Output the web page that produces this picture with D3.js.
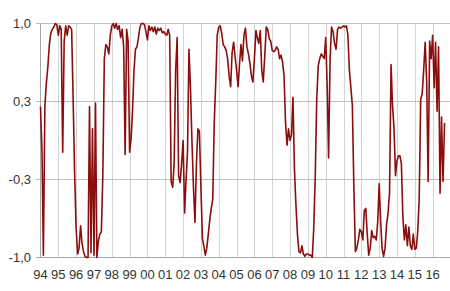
<!DOCTYPE html>
<html>
<head>
<meta charset="utf-8">
<script src="https://cdn.jsdelivr.net/npm/d3@7"></script>
<style>
  body { margin: 0; background: #fff; }
  text { font-family: Arial, "Liberation Sans", sans-serif; }
</style>
</head>
<body>
<script>
var width = 450,
  height = 291;

// x axis labels (one per year, placed at 1 January)
var years = [1994, 1995, 1996, 1997, 1998, 1999, 2000, 2001, 2002, 2003, 2004, 2005,
  2006, 2007, 2008, 2009, 2010, 2011, 2012, 2013, 2014, 2015, 2016];
var yearLabels = ["94", "95", "96", "97", "98", "99", "00", "01", "02", "03", "04", "05",
  "06", "07", "08", "09", "10", "11", "12", "13", "14", "15", "16"];

var yTicks = [1, 1 / 3, -1 / 3, -1];
var yTickLabels = ["1,0", "0,3", "-0,3", "-1,0"];

// monthly values, starting January 1994
var values1994_1999 = [
  0.29, -0.1, -0.98, 0.3, 0.49, 0.63, 0.82, 0.92, 0.95, 0.97, 1.0, 0.99,
  0.9, 0.98, 0.95, -0.1, 0.85, 0.98, 0.9, 0.98, 0.97, 0.95, 0.35, -0.28,
  -0.75, -0.97, -0.92, -0.73, -0.88, -0.95, -0.99, -1.0, -1.0, 0.29, -0.96, 0.1,
  -0.98, 0.32, -1.0, -0.86, -0.8, -0.78, -0.3, 0.7, 0.82, 0.8, 0.74, 0.9,
  0.98, 1.0, 0.96, 1.0, 0.95, 0.98, 0.88, 0.95, 0.8, -0.12, 0.95, 0.85,
  -0.1, 0.02, 0.25, 0.6, 0.78, 0.8, 0.88, 0.97, 1.0, 1.0, 0.99, 0.93
];
var values2000_2005 = [
  0.86, 0.98, 0.94, 0.97, 0.93, 0.97, 0.91, 0.96, 0.94, 0.96, 0.92, 0.93,
  0.91, 0.9, 0.95, 0.9, -0.35, -0.4, -0.2, 0.6, 0.88, -0.3, -0.36, -0.2,
  0.0, -0.62, -0.35, -0.1, 0.78, 0.45, 0.0, -0.4, -0.7, -0.2, 0.1, 0.08,
  -0.4, -0.84, -0.9, -0.98, -0.92, -0.8, -0.68, -0.58, -0.5, 0.15, 0.5, 0.9,
  0.97, 0.98, 0.92, 0.82, 0.8, 0.77, 0.7, 0.55, 0.46, 0.75, 0.84, 0.72,
  0.6, 0.46, 0.65, 0.82, 0.68, 0.9, 0.96, 0.8, 0.74, 0.66, 0.55, 0.5
];
var values2006_2011 = [
  0.7, 0.94, 0.88, 0.83, 0.94, 0.6, 0.5, 0.72, 0.97, 0.95, 0.87, 0.85,
  0.77, 0.76, 0.77, 0.8, 0.78, 0.7, 0.73, 0.67, 0.55, 0.15, -0.04, 0.1,
  0.0, 0.05, 0.37, -0.25, -0.55, -0.8, -0.95, -0.96, -0.9, -0.97, -0.99, -0.97,
  -0.97, -0.98, -0.98, -1.0, -0.75, -0.3, 0.35, 0.64, 0.7, 0.74, 0.72, 0.7,
  0.88, 0.45, -0.15, 0.7, 0.97, 0.93, 0.83, 0.78, 0.95, 0.97, 0.96, 0.97,
  0.98, 0.97, 0.98, 0.9, 0.6, 0.45, 0.3, -0.4, -0.95, -0.92, -0.85, -0.76
];
var values2012_2016 = [
  -0.78, -0.85, -0.6, -0.58, -0.8, -0.98, -0.92, -0.77, -0.83, -0.82, -0.85, -0.7,
  -0.37, -0.7, -0.92, -0.99, -0.92, -0.72, -0.62, -0.45, 0.65, 0.3, 0.1, -0.3,
  -0.17, -0.13, -0.13, -0.2, -0.65, -0.85, -0.72, -0.9, -0.74, -0.9, -0.93, -0.8,
  -0.93, -0.92, -0.78, -0.5, 0.35, 0.4, 0.6, 0.84, 0.5, -0.35, 0.85, 0.7,
  0.9, 0.45, 0.84, 0.25, 0.8, -0.45, 0.2, -0.35, 0.15
];

var series = values1994_1999.concat(values2000_2005, values2006_2011, values2012_2016)
  .map(function(v, i) { return { date: new Date(1994, i, 1), value: v }; });

var svg = d3.select('body').append('svg')
  .attr('width', width)
  .attr('height', height);

var x = d3.scaleTime()
  .domain([new Date(1994, 0, 1), new Date(2017, 0, 1)])
  .range([40.5, 450.5]);

var y = d3.scaleLinear()
  .domain([-1, 1])
  .range([257.5, 23.5]);

// vertical gridlines
svg.append("g")
  .selectAll("line")
  .data(years.slice(1))
  .enter().append("line")
    .attr("x1", function(d) { return Math.round(x(new Date(d, 0, 1))) + 0.5; })
    .attr("x2", function(d) { return Math.round(x(new Date(d, 0, 1))) + 0.5; })
    .attr("y1", y(1))
    .attr("y2", y(-1))
    .attr("stroke", "#d4d4d4")
    .attr("stroke-width", 1);

// horizontal gridlines + tick stubs
svg.append("g")
  .selectAll("line")
  .data(yTicks)
  .enter().append("line")
    .attr("x1", 36)
    .attr("x2", width)
    .attr("y1", function(d) { return Math.round(y(d) - 0.5) + 0.5; })
    .attr("y2", function(d) { return Math.round(y(d) - 0.5) + 0.5; })
    .attr("stroke", function(d) { return d === -1 ? "#a6a6a6" : "#bfbfbf"; })
    .attr("stroke-width", 1);

// left axis line
svg.append("line")
  .attr("x1", x(new Date(1994, 0, 1)))
  .attr("x2", x(new Date(1994, 0, 1)))
  .attr("y1", y(1))
  .attr("y2", y(-1))
  .attr("stroke", "#a6a6a6");

// y labels
svg.append("g")
  .selectAll("text")
  .data(yTicks)
  .enter().append("text")
    .attr("x", 31)
    .attr("y", function(d) { return y(d) + 4.5; })
    .attr("text-anchor", "end")
    .attr("font-size", 13)
    .attr("fill", "#333")
    .text(function(d, i) { return yTickLabels[i]; });

// x labels
svg.append("g")
  .selectAll("text")
  .data(years)
  .enter().append("text")
    .attr("x", function(d) { return x(new Date(d, 0, 1)); })
    .attr("y", 279)
    .attr("text-anchor", "middle")
    .attr("font-size", 13)
    .attr("fill", "#333")
    .text(function(d, i) { return yearLabels[i]; });

var line = d3.line()
  .x(function(d) { return x(d.date); })
  .y(function(d) { return y(d.value); });

svg.append("path")
  .datum(series)
  .attr("fill", "none")
  .attr("stroke", "#8b0e0e")
  .attr("stroke-width", 1.6)
  .attr("stroke-linejoin", "round")
  .attr("d", line);
</script>
</body>
</html>
